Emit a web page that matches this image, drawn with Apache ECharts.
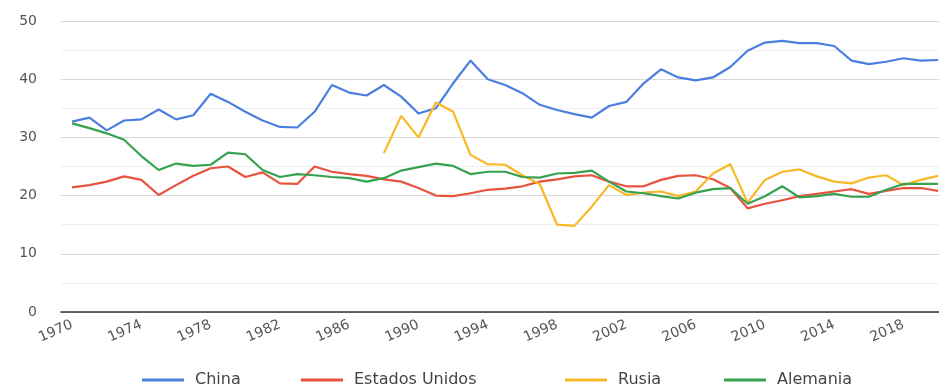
<!DOCTYPE html>
<html>
<head>
<meta charset="utf-8">
<script src="https://cdn.jsdelivr.net/npm/echarts@6/dist/echarts.min.js"></script>
<style>
html,body{margin:0;padding:0;background:#fff;}
#c{width:939px;height:389px;}
</style>
</head>
<body>
<div id="c"></div>
<script>
const years = [1970,1971,1972,1973,1974,1975,1976,1977,1978,1979,1980,1981,1982,1983,1984,1985,1986,1987,1988,1989,1990,1991,1992,1993,1994,1995,1996,1997,1998,1999,2000,2001,2002,2003,2004,2005,2006,2007,2008,2009,2010,2011,2012,2013,2014,2015,2016,2017,2018,2019,2020];
const labelYears = [1970,1974,1978,1982,1986,1990,1994,1998,2002,2006,2010,2014,2018];
const yTicks = [0,10,20,30,40,50];

const china = [32.7,33.4,31.2,32.9,33.1,34.8,33.1,33.8,37.5,36.1,34.4,32.9,31.8,31.7,34.4,39.0,37.7,37.2,39.0,37.0,34.1,35.0,39.3,43.2,40.0,39.0,37.6,35.6,34.7,34.0,33.4,35.4,36.1,39.3,41.7,40.3,39.8,40.3,42.1,44.9,46.3,46.6,46.2,46.2,45.7,43.2,42.6,43.0,43.6,43.2,43.3];
const usa = [21.4,21.8,22.4,23.3,22.7,20.1,21.8,23.4,24.7,25.0,23.2,24.0,22.1,22.0,25.0,24.1,23.7,23.4,22.8,22.4,21.3,20.0,19.9,20.4,21.0,21.2,21.6,22.4,22.8,23.3,23.5,22.4,21.6,21.6,22.7,23.4,23.5,22.8,21.3,17.8,18.6,19.2,19.9,20.3,20.7,21.1,20.3,20.8,21.3,21.3,20.8];
const russia = [null,null,null,null,null,null,null,null,null,null,null,null,null,null,null,null,null,null,27.3,33.7,30.0,36.0,34.4,27.0,25.4,25.3,23.5,22.0,15.0,14.8,18.1,21.8,20.1,20.5,20.7,19.9,20.7,23.8,25.4,18.8,22.7,24.1,24.5,23.3,22.4,22.1,23.1,23.5,21.8,22.7,23.4];
const germany = [32.4,31.6,30.7,29.6,26.8,24.4,25.5,25.1,25.3,27.4,27.1,24.4,23.2,23.7,23.5,23.2,23.0,22.4,23.0,24.3,24.9,25.5,25.1,23.7,24.1,24.1,23.2,23.1,23.8,23.9,24.3,22.4,20.7,20.4,19.9,19.5,20.5,21.1,21.3,18.6,19.9,21.6,19.7,19.9,20.3,19.8,19.8,21.0,22.0,22.0,22.0];

const seriesNames = ['China','Estados Unidos','Rusia','Alemania'];
const seriesValues = [china, usa, russia, germany];
const colors = ['#4a7fe0','#e8533f','#f9b825','#36a24f'];
const legendLeft = [137, 296, 560, 719];

const FONT = 'DejaVu Sans';

const chart = echarts.init(document.getElementById('c'), null, {renderer:'canvas'});
chart.setOption({
  backgroundColor:'#ffffff',
  animation:false,
  color: colors,
  grid:{left:61, right:0, top:21, bottom:77, containLabel:false},
  legend: seriesNames.map((n,i)=>({
    data:[n], left:legendLeft[i], top:367, icon:'rect', itemWidth:42, itemHeight:3,
    textStyle:{fontFamily:FONT, fontSize:16, color:'#444', padding:[0,0,0,6]}
  })),
  xAxis:{
    type:'value', min:1969.36, max:2020.05,
    splitLine:{show:false}, axisTick:{show:false},
    axisLine:{show:true, lineStyle:{color:'#333', width:1.5}},
    axisLabel:{customValues:labelYears, rotate:24, margin:12, fontFamily:FONT, fontSize:14, color:'#555', formatter:v=>String(v)}
  },
  yAxis:{
    type:'value', min:yTicks[0], max:yTicks[yTicks.length-1], interval:10,
    axisLine:{show:false}, axisTick:{show:false},
    axisLabel:{margin:24, fontFamily:FONT, fontSize:14, color:'#555'},
    splitLine:{lineStyle:{color:'#d9d9d9', width:1}},
    minorTick:{show:false, splitNumber:2},
    minorSplitLine:{show:true, lineStyle:{color:'#eeeeee', width:1}}
  },
  series: seriesNames.map((n,i)=>({
    name:n, type:'line', showSymbol:false, connectNulls:false,
    lineStyle:{width:2.2},
    data: years.map((y,j)=>[y, seriesValues[i][j]])
  }))
});
</script>
</body>
</html>
